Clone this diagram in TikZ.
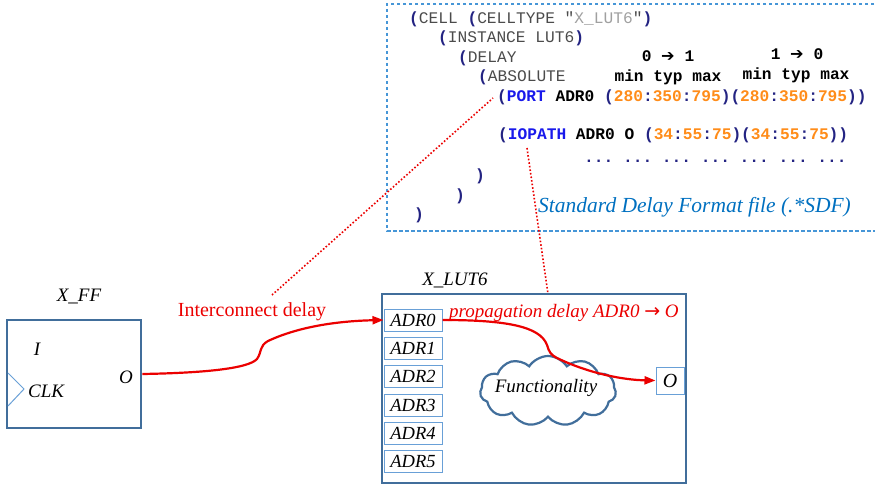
\documentclass[tikz,border=0pt]{standalone}
\usepackage{fontspec}
\setmainfont{Liberation Serif}
\setmonofont{Liberation Mono}
\newfontfamily\arrowfont{DejaVu Sans}
\usetikzlibrary{shapes.symbols,arrows.meta}

\definecolor{boxblue}{RGB}{65,110,155}
\definecolor{portblue}{RGB}{105,160,215}
\definecolor{dashblue}{RGB}{70,150,215}
\definecolor{sdfnavy}{RGB}{35,35,130}
\definecolor{sdfgray}{RGB}{75,75,75}
\definecolor{sdflight}{RGB}{160,160,160}
\definecolor{sdfkey}{RGB}{25,25,235}
\definecolor{sdfnum}{RGB}{255,140,25}
\definecolor{sdflabel}{RGB}{0,112,192}
\definecolor{wire}{RGB}{235,0,0}

% colour helpers for the SDF listing
\newcommand\Pn[1]{{\color{sdfnavy}\bfseries #1}}
\newcommand\Kw[1]{{\color{sdfgray}#1}}
\newcommand\Kb[1]{{\color{sdfkey}\bfseries #1}}
\newcommand\Nm[1]{{\color{sdfnum}\bfseries #1}}
\newcommand\Bk[1]{{\color{black}\bfseries #1}}
\newcommand\Arr{{\arrowfont\bfseries ➔}}

\tikzset{
  code/.style={anchor=base west, inner sep=0pt, font=\ttfamily\fontsize{16.2}{18}\selectfont},
  hdr/.style={anchor=base, inner sep=0pt, font=\ttfamily\bfseries\fontsize{16.2}{18}\selectfont},
  cell/.style={draw=boxblue, line width=2.8pt, fill=white, inner sep=0pt},
  port/.style={draw=portblue, line width=1pt, fill=white, inner sep=0pt,
     minimum width=58pt, minimum height=22pt, font=\itshape\fontsize{18.5}{20}\selectfont},
  lbl/.style={inner sep=0pt, font=\itshape\fontsize{19}{21}\selectfont},
  wirepath/.style={draw=wire, line width=2.2pt, -{Triangle[length=11pt,width=8pt]}},
  note/.style={draw=wire, line width=1.6pt, dotted},
}

\begin{document}
\begin{tikzpicture}[x=1pt,y=-1pt]
\useasboundingbox (0,0) rectangle (875,486);

% SDF listing frame
\draw[dashblue, line width=1.2pt, dash pattern=on 3.5pt off 2.5pt] (880,4) -- (387,4) -- (387,231) -- (880,231);

% SDF listing
\node[code] (l1) at (409,24) {\Pn{(}\Kw{CELL }\Pn{(}\Kw{CELLTYPE "}{\color{sdflight}X\_LUT6}\Kw{"}\Pn{)}};
\node[code] (l2) at (438,43) {\Pn{(}\Kw{INSTANCE LUT6}\Pn{)}};
\node[code] (l3) at (458,63) {\Pn{(}\Kw{DELAY}};
\node[code] (l4) at (478,82) {\Pn{(}\Kw{ABSOLUTE}};
\node[code] (l5) at (497,102) {\Pn{(}\Kb{PORT} \Bk{ADR0} \Pn{(}\Nm{280}\Pn{:}\Nm{350}\Pn{:}\Nm{795}\Pn{)(}\Nm{280}\Pn{:}\Nm{350}\Pn{:}\Nm{795}\Pn{))}};
\node[code] (l6) at (498,140) {\Pn{(}\Kb{IOPATH} \Bk{ADR0 O} \Pn{(}\Nm{34}\Pn{:}\Nm{55}\Pn{:}\Nm{75}\Pn{)(}\Nm{34}\Pn{:}\Nm{55}\Pn{:}\Nm{75}\Pn{))}};
\node[code] (l7) at (584,163) {\Pn{... ... ... ... ... ... ...}};
\node[code] (l8) at (475,181) {\Pn{)}};
\node[code] (l9) at (455,201) {\Pn{)}};
\node[code] (l10) at (414,220) {\Pn{)}};

% rise / fall column headers
\node[hdr] (h1) at (668,62) {0 \Arr{} 1};
\node[hdr] (h2) at (668,82) {min typ max};
\node[hdr] (h3) at (797,60) {1 \Arr{} 0};
\node[hdr] (h4) at (796,80) {min typ max};

\node[inner sep=0pt, anchor=west, text=sdflabel, font=\itshape\fontsize{21.5}{23}\selectfont] (sdf) at (538,207) {Standard Delay Format file (.*SDF)};

% flip-flop cell
\node[cell, minimum width=134pt, minimum height=108pt] (ff) at (74,374) {};
\node[lbl] (fftitle) at (79,297) {X\_FF};
\node[lbl] (ffI) at (37,349) {I};
\node[lbl, anchor=west] (ffclk) at (28,391) {CLK};
\node[lbl] (ffO) at (126,377) {O};
\draw[portblue, line width=1pt] (8,373) -- (24,389) -- (8,406);

% LUT cell
\node[cell, minimum width=304pt, minimum height=189pt] (lut) at (534,388.5) {};
\node[lbl] (luttitle) at (455,280) {X\_LUT6};
\node[port] (adr0) at (413,320) {ADR0};
\node[port] (adr1) at (413,348) {ADR1};
\node[port] (adr2) at (413,376) {ADR2};
\node[port] (adr3) at (413,405) {ADR3};
\node[port] (adr4) at (413,433) {ADR4};
\node[port] (adr5) at (413,461) {ADR5};
\node[port, minimum width=28pt, minimum height=27pt, font=\itshape\fontsize{20}{22}\selectfont] (lutO) at (670,380.5) {O};

\node[cloud, cloud puffs=11, cloud puff arc=115, aspect=1.9, draw=boxblue, line width=2.2pt,
      minimum width=136pt, minimum height=70pt, inner sep=0pt] (fn) at (548,391) {};
\node[lbl] (fntext) at (546,388) {Functionality};

% delay labels
\node[inner sep=0pt, text=wire, font=\fontsize{20}{22}\selectfont] (ic) at (252,312) {Interconnect delay};
\node[lbl, text=wire, anchor=west] (pd) at (449,313) {propagation delay ADR0 {\normalfont\arrowfont→} O};

% timing paths
\draw[wirepath] (ff.east) .. controls (200,373) and (248,369) .. (257,359)
   .. controls (262,352) and (259,346) .. (268,341)
   .. controls (300,326) and (340,321) .. (adr0.west);
\draw[wirepath] (adr0.east) .. controls (505,320) and (540,326) .. (547,345)
   .. controls (549,352) and (551,355) .. (557,358)
   .. controls (590,374) and (625,380) .. (lutO.west);

% annotations pointing into the SDF listing
\coordinate (icTip) at (272,295);
\coordinate (portRef) at (493,98);
\coordinate (ioRef) at (527,148);
\coordinate (lutTop) at (548,294);
\draw[note] (icTip) -- (portRef);
\draw[note] (ioRef) -- (lutTop);
\end{tikzpicture}
\end{document}
